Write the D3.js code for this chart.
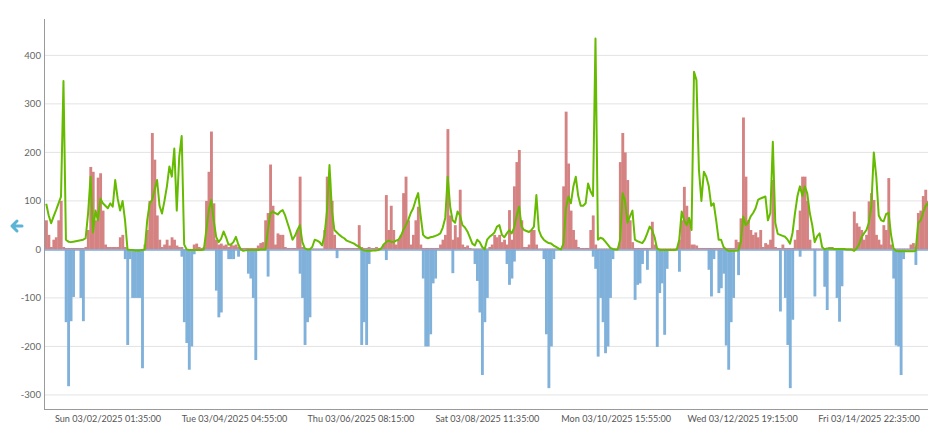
<!DOCTYPE html>
<html><head><meta charset="utf-8">
<script src="https://cdn.jsdelivr.net/npm/d3@7/dist/d3.min.js"></script>
<style>
html,body{margin:0;padding:0;background:#fff;}
svg{display:block;font-family:Lato,"Open Sans",sans-serif;}
</style></head>
<body><svg id="c" width="942" height="438"></svg>
<script>
// Hourly series, starting 03/01/2025 00:00 (one row per day)
const startTime = "2025-03-01T00:00:00";
const greenVals = [
94,70,54,68,81,95,109,347,20,16,15,16,17,18,19,20,23,75,150,35,80,60,105,95,
90,85,95,88,143,105,80,100,60,0,-1,-1,-2,-2,-2,-1,0,60,95,102,123,143,90,74,
100,130,171,150,208,80,191,234,10,0,-1,-1,-1,-1,-1,-1,0,40,81,102,60,26,15,22,
37,25,10,10,15,26,10,0,-3,-2,-1,-1,-1,-1,-1,0,0,0,40,75,78,75,72,78,
81,70,54,38,20,28,40,50,15,2,0,0,5,20,18,15,8,30,80,174,80,40,35,30,
26,23,18,16,14,12,8,6,0,-2,-3,-3,-3,-2,-2,-1,2,10,15,18,16,15,18,20,
28,40,50,61,75,85,102,116,70,30,25,23,25,26,28,30,33,45,65,150,88,60,55,78,
70,50,45,37,25,12,8,20,15,5,0,20,26,30,35,47,50,30,25,33,40,33,45,70,
88,47,40,38,36,40,47,112,40,27,20,16,13,12,8,5,2,0,12,85,109,95,129,150,
110,90,90,95,136,120,110,435,20,24,22,16,10,3,1,0,0,20,116,100,55,68,80,20,
17,15,13,20,33,47,40,25,2,-1,-1,-1,-1,-1,-1,-1,0,20,78,60,50,65,40,366,
349,164,100,160,150,130,90,95,60,20,20,5,0,-3,-3,-3,-3,-2,15,68,50,55,68,75,
85,102,105,107,109,60,75,222,55,32,30,28,26,20,12,34,75,110,130,110,130,115,75,50,
15,27,33,5,0,2,2,2,1,1,1,1,1,0,0,0,-3,2,10,25,33,40,55,90,
200,150,70,60,58,73,75,30,2,-3,-4,-4,-4,-4,-4,-4,-4,-3,54,60,75,90,95,70
];
const redVals = [
60,30,5,20,25,60,100,5,3,3,3,3,3,3,3,3,5,40,170,160,60,148,157,80,
10,5,5,5,5,5,25,30,5,0,0,0,0,0,0,0,10,40,100,240,185,70,20,5,
10,20,8,25,20,8,5,5,0,0,0,0,10,12,5,3,5,100,160,243,95,20,10,12,
8,10,5,10,8,10,5,3,3,3,3,3,3,3,8,13,15,60,75,175,90,10,33,30,
30,5,3,3,3,3,40,150,5,2,2,2,2,2,2,2,2,40,150,150,100,30,3,3,
3,3,3,3,3,3,3,50,5,3,3,5,3,3,5,3,3,10,112,40,90,40,10,20,
30,116,150,60,10,30,60,88,10,3,3,3,3,3,3,3,10,20,30,248,70,20,50,25,
123,10,5,8,3,2,2,2,2,2,2,2,5,10,30,25,30,15,20,10,81,20,130,180,
205,60,5,5,10,40,40,10,2,2,2,2,2,2,2,2,2,2,130,284,177,80,40,20,
5,3,3,3,3,40,70,10,2,2,2,2,2,2,2,2,2,180,240,200,143,60,15,3,
3,3,3,3,3,3,57,10,2,2,2,2,2,2,2,2,2,20,60,129,90,60,10,10,
8,3,3,3,3,3,3,3,3,3,3,3,3,3,3,3,20,15,64,272,150,60,40,30,
35,25,40,5,13,10,20,143,5,3,3,10,3,3,3,3,20,40,80,150,150,100,20,2,
2,2,2,2,2,2,5,5,2,2,2,2,2,2,2,2,78,54,47,40,20,30,99,116,
102,30,20,10,50,40,147,10,2,2,2,2,2,2,2,10,13,5,75,80,110,123,100,70
];
const blueVals = [
0,0,0,0,0,0,0,0,-150,-282,-148,-98,0,0,-100,-148,0,0,0,0,0,0,0,0,
0,0,0,0,0,0,0,0,-20,-197,-20,-100,-100,-100,-100,-245,0,0,0,0,0,0,0,0,
0,0,0,0,0,0,0,-15,-150,-193,-248,-200,-10,0,0,0,0,0,0,0,0,-85,-140,-130,
0,0,-20,-20,-20,0,-15,0,0,0,-50,-60,-100,-228,0,0,0,0,-56,0,0,0,0,0,
0,0,0,0,0,0,0,-50,-100,-197,-150,-140,0,0,0,0,0,0,0,0,0,0,-18,0,
0,0,0,0,0,0,0,0,-197,-150,-197,-30,0,0,0,0,0,0,-22,0,0,0,0,0,
0,0,0,0,0,0,0,0,0,-60,-200,-200,-175,-70,-60,0,0,0,0,0,0,-49,0,0,
0,0,0,0,0,0,-30,-65,-130,-259,-150,-100,0,0,0,0,0,0,0,-30,-73,-60,-25,0,
0,0,0,0,0,0,0,0,0,0,-20,-175,-286,-200,-20,0,0,0,0,0,0,0,0,0,
0,0,0,0,0,0,-15,-40,-221,-100,-150,-214,-200,-100,-20,0,0,0,0,0,0,0,0,-104,
-73,-70,-30,0,-42,0,0,0,-201,-90,-70,-176,-40,0,0,0,0,-46,0,0,0,0,0,0,
0,0,0,0,0,-42,-97,-20,0,-90,-80,-50,-198,-248,-150,-100,0,-53,0,0,0,0,0,0,
0,0,0,0,0,0,0,0,0,0,-128,0,-100,-197,-286,-145,0,0,-15,0,0,0,0,0,
-97,0,0,0,-77,-125,0,0,0,-100,-149,-76,0,0,0,0,0,0,0,0,0,0,0,0,
0,0,0,0,0,0,0,0,-60,-198,-200,-259,-20,0,0,0,0,-32,0,0,0,0,0,0
];
const yTicks = [-300,-200,-100,0,100,200,300,400];
const xTickTimes = ["2025-03-02T01:35:00","2025-03-04T04:55:00","2025-03-06T08:15:00",
  "2025-03-08T11:35:00","2025-03-10T15:55:00","2025-03-12T19:15:00","2025-03-14T22:35:00"];

const svg = d3.select("#c");
const parse = d3.timeParse("%Y-%m-%dT%H:%M:%S");
const t0 = parse(startTime);
const HOUR = 3600e3;
const tAt = i => new Date(t0.getTime() + i*HOUR);
const x = d3.scaleTime().domain([t0, new Date(t0.getTime() + 358.5*HOUR)]).range([45, 928]);
const y = d3.scaleLinear().domain([-329, 475]).range([409, 19]);

svg.append("defs").append("clipPath").attr("id","clip")
  .append("rect").attr("x",44).attr("y",10).attr("width",884).attr("height",400);

// grid
svg.append("g").selectAll("line").data(yTicks).join("line")
  .attr("x1",44).attr("x2",928).attr("y1",d=>y(d)).attr("y2",d=>y(d))
  .attr("stroke","#e3e3e3").attr("stroke-width",1);

const plot = svg.append("g").attr("clip-path","url(#clip)");
const idx = d3.range(greenVals.length);

// red bars
plot.append("g").selectAll("rect").data(idx.filter(i=>redVals[i]>0)).join("rect")
  .attr("x", i=>x(tAt(i))).attr("width", i=>x(tAt(i+1))-x(tAt(i))+0.4)
  .attr("y", i=>y(redVals[i])).attr("height", i=>y(0)-y(redVals[i]))
  .attr("fill","#d58282");
// blue bars
plot.append("g").selectAll("rect").data(idx.filter(i=>blueVals[i]<0)).join("rect")
  .attr("x", i=>x(tAt(i))).attr("width", i=>x(tAt(i+1))-x(tAt(i))+0.4)
  .attr("y", y(0)).attr("height", i=>y(blueVals[i])-y(0))
  .attr("fill","#80b1da");
// blue baseline
plot.append("line").attr("x1",x(tAt(0))).attr("x2",928).attr("y1",y(0)+0.5).attr("y2",y(0)+0.5)
  .attr("stroke","#7aaddb").attr("stroke-width",1.5);
// green line
const line = d3.line().x(i=>x(new Date(tAt(i).getTime()+HOUR/2))).y(i=>y(greenVals[i]));
plot.append("path").datum(idx).attr("d",line).attr("fill","none")
  .attr("stroke","#66bb00").attr("stroke-width",2).attr("stroke-linejoin","round");

// axes lines
svg.append("line").attr("x1",44.5).attr("x2",44.5).attr("y1",19).attr("y2",409.5).attr("stroke","#9a9a9a");
svg.append("line").attr("x1",44).attr("x2",928).attr("y1",409.5).attr("y2",409.5).attr("stroke","#9a9a9a");

// y labels
svg.append("g").selectAll("text").data(yTicks).join("text")
  .attr("x",41).attr("y",d=>y(d)+3.5).attr("text-anchor","end")
  .attr("font-size",9.6).attr("fill","#666").text(d=>d);

// x labels
const fmt = d3.timeFormat("%a %m/%d/%Y %H:%M:%S");
svg.append("g").selectAll("text").data(xTickTimes.map(parse)).join("text")
  .attr("x",d=>x(d)).attr("y",421.5).attr("text-anchor","middle")
  .attr("font-size",9.1).attr("fill","#555").text(d=>fmt(d));

// left arrow icon
svg.append("path").attr("d","M22,226 L12,226 M17,221 L12,226 L17,231")
  .attr("fill","none").attr("stroke","#5ab4d6").attr("stroke-width",3)
  .attr("stroke-linecap","round").attr("stroke-linejoin","round");
</script></body></html>
